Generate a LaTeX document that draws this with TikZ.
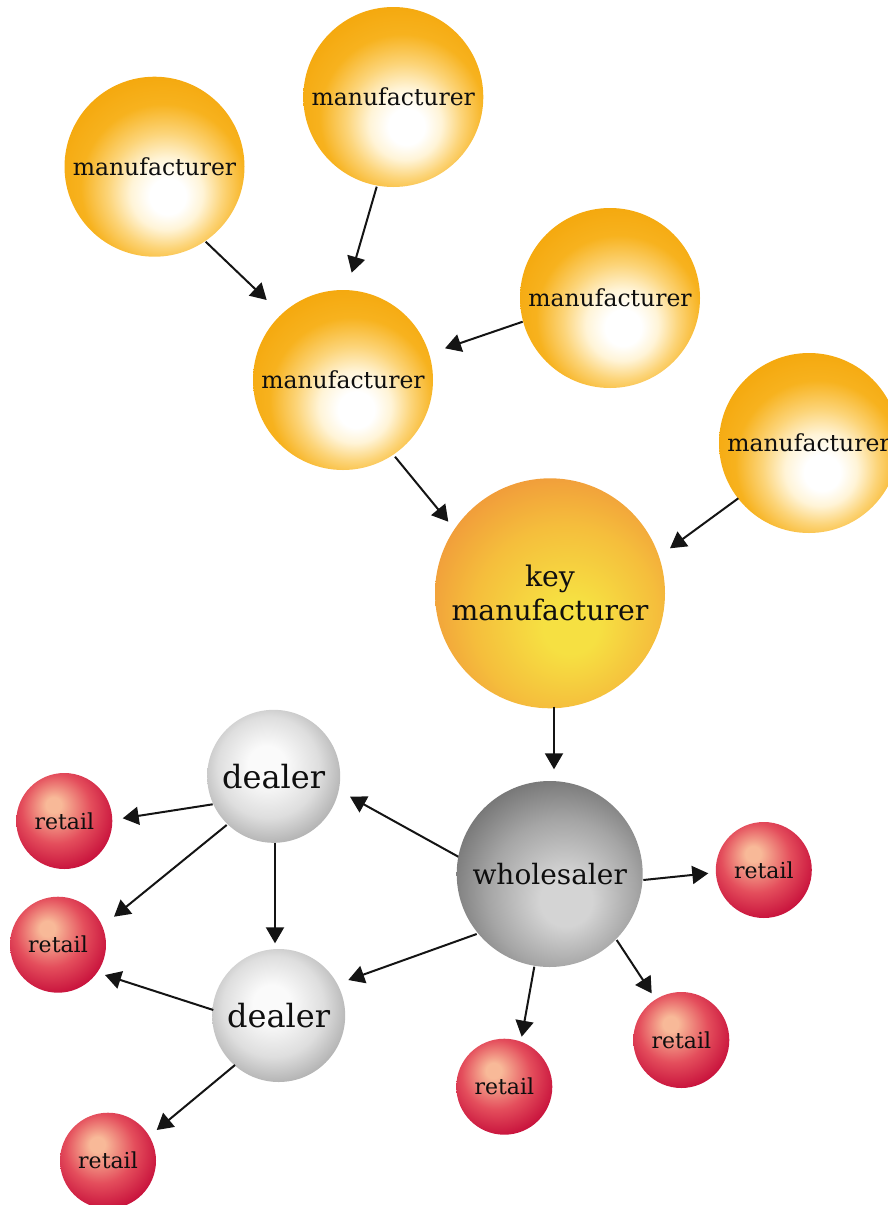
\documentclass[tikz,border=0pt]{standalone}
\usepackage{fontspec}
\setmainfont{DejaVu Serif}
\usetikzlibrary{arrows.meta,calc}

\definecolor{mfglt}{RGB}{255,244,215}
\definecolor{mfgmid}{RGB}{252,212,120}
\definecolor{mfgrim}{RGB}{247,178,30}
\definecolor{mfgdeep}{RGB}{244,166,10}
\definecolor{keyhi}{RGB}{246,224,66}
\definecolor{keymid}{RGB}{245,190,60}
\definecolor{keyrim}{RGB}{240,150,58}
\definecolor{whhi}{RGB}{212,212,212}
\definecolor{whmid}{RGB}{165,165,165}
\definecolor{whrim}{RGB}{110,110,110}
\definecolor{dlhi}{RGB}{250,250,250}
\definecolor{dlmid}{RGB}{222,222,222}
\definecolor{dlrim}{RGB}{170,170,170}
\definecolor{rthi}{RGB}{248,185,152}
\definecolor{rtmid}{RGB}{228,78,92}
\definecolor{rtrim}{RGB}{198,14,58}
\definecolor{txt}{RGB}{15,15,15}

\pgfdeclareradialshading{mfgshade}{\pgfpoint{4bp}{-9bp}}{color(0bp)=(white);color(5bp)=(white);color(10bp)=(mfglt);color(16bp)=(mfgmid);color(23bp)=(mfgrim);color(32bp)=(mfgdeep);color(60bp)=(mfgdeep)}
\pgfdeclareradialshading{keyshade}{\pgfpoint{5bp}{-8bp}}{color(0bp)=(keyhi);color(6bp)=(keyhi);color(20bp)=(keymid);color(32bp)=(keyrim);color(60bp)=(keyrim)}
\pgfdeclareradialshading{whshade}{\pgfpoint{5bp}{-8bp}}{color(0bp)=(whhi);color(7bp)=(whhi);color(20bp)=(whmid);color(32bp)=(whrim);color(60bp)=(whrim)}
\pgfdeclareradialshading{dlshade}{\pgfpoint{-3bp}{5bp}}{color(0bp)=(dlhi);color(7bp)=(dlhi);color(19bp)=(dlmid);color(30bp)=(dlrim);color(60bp)=(dlrim)}
\pgfdeclareradialshading{rtshade}{\pgfpoint{-6bp}{9bp}}{color(0bp)=(rthi);color(4bp)=(rthi);color(18bp)=(rtmid);color(31bp)=(rtrim);color(60bp)=(rtrim)}

\tikzset{
  ball/.style={circle, inner sep=0pt, text=txt, align=center},
  mfg/.style={ball, minimum size=180pt, shading=mfgshade, font=\fontsize{23.5pt}{28pt}\selectfont},
  keymfg/.style={ball, minimum size=230pt, shading=keyshade, font=\fontsize{28.3pt}{34pt}\selectfont},
  whole/.style={ball, minimum size=186pt, shading=whshade, font=\fontsize{28pt}{33pt}\selectfont},
  dealerball/.style={ball, minimum size=133pt, shading=dlshade, font=\fontsize{32pt}{38pt}\selectfont},
  retailball/.style={ball, minimum size=96pt, shading=rtshade, font=\fontsize{22pt}{26pt}\selectfont},
  arr/.style={draw=black!92, line width=2pt, -{Triangle[length=16pt,width=18pt]}}
}

\begin{document}
\begin{tikzpicture}[x=1pt,y=-1pt]
\useasboundingbox (0,0) rectangle (887,1205);

\node[mfg] (m1) at (154.5,166.7) {manufacturer};
\node[mfg] (m2) at (393.3,97) {manufacturer};
\node[mfg] (m3) at (343,380) {manufacturer};
\node[mfg] (m4) at (610,298) {manufacturer};
\node[mfg] (m5) at (809,443) {manufacturer};
\node[keymfg] (key) at (550,593.3) {key\\manufacturer};
\node[whole] (w) at (549.7,874) {wholesaler};
\node[dealerball] (d1) at (273.7,776.3) {dealer};
\node[dealerball] (d2) at (278.7,1015.5) {dealer};
\node[retailball] (ra) at (64.3,821) {retail};
\node[retailball] (rb) at (58,944.7) {retail};
\node[retailball] (rc) at (108,1160.7) {retail};
\node[retailball] (rd) at (763.8,870) {retail};
\node[retailball] (re) at (681.3,1040) {retail};
\node[retailball] (rf) at (504.3,1086.7) {retail};

\draw[arr] ($(m1)+(51.2,75)$) -- ($(m3)+(-76.3,-80)$);
\draw[arr] ($(m2)+(-16.6,89.7)$) -- ($(m3)+(8.7,-107.3)$);
\draw[arr] ($(m4)+(-87.3,23.7)$) -- ($(m3)+(102,-31.7)$);
\draw[arr] ($(m3)+(52,76.7)$) -- ($(key)+(-101.7,-71.6)$);
\draw[arr] ($(m5)+(-70.7,55.3)$) -- ($(key)+(120,-45)$);
\draw[arr] ($(key)+(4,113.4)$) -- ($(w)+(4.3,-104.7)$);
\draw[arr] ($(w)+(-91.4,-17.3)$) -- ($(d1)+(76.3,20.4)$);
\draw[arr] ($(w)+(-73,60)$) -- ($(d2)+(69.6,-35.5)$);
\draw[arr] ($(w)+(93.6,6)$) -- ($(rd)+(-55.5,3.3)$);
\draw[arr] ($(w)+(67,66)$) -- ($(re)+(-29.6,-46.7)$);
\draw[arr] ($(w)+(-15.4,92.7)$) -- ($(rf)+(17.4,-50)$);
\draw[arr] ($(d1)+(-61,28)$) -- ($(ra)+(58.4,-2.7)$);
\draw[arr] ($(d1)+(-47,48.7)$) -- ($(rb)+(56,-28)$);
\draw[arr] ($(d1)+(1.3,67)$) -- ($(d2)+(-3.7,-72.2)$);
\draw[arr] ($(d2)+(-65.4,-5.5)$) -- ($(rb)+(47,30.3)$);
\draw[arr] ($(d2)+(-43.7,49.5)$) -- ($(rc)+(48.7,-30.7)$);
\end{tikzpicture}
\end{document}
